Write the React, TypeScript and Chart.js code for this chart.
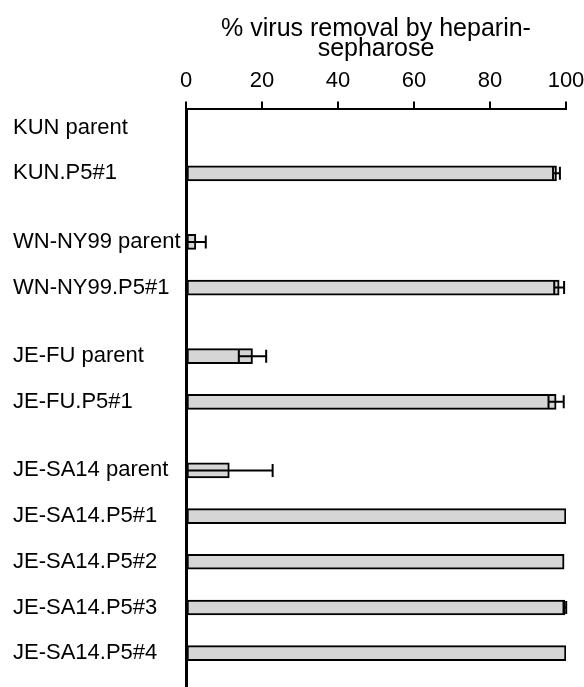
import { useEffect, useRef } from 'react';
import { Chart, registerables } from 'chart.js';

Chart.register(...registerables);

const categories = [
  'KUN parent',
  'KUN.P5#1',
  'WN-NY99 parent',
  'WN-NY99.P5#1',
  'JE-FU parent',
  'JE-FU.P5#1',
  'JE-SA14 parent',
  'JE-SA14.P5#1',
  'JE-SA14.P5#2',
  'JE-SA14.P5#3',
  'JE-SA14.P5#4',
];
const groups = ['KUN', 'KUN', 'WN', 'WN', 'FU', 'FU', 'SA', 'SA', 'SA', 'SA', 'SA'];
const removal: (number | null)[] = [null, 97.5, 2.6, 98.2, 17.5, 97.4, 11.4, 100, 99.5, 99.7, 100];
const removalError = [0, 0.9, 2.6, 1.3, 3.6, 2.0, 11.4, 0, 0, 0.35, 0];
const xTickValues = [0, 20, 40, 60, 80, 100];
const axisTitle = ['% virus removal by heparin-', 'sepharose'];

const FONT = "'Liberation Sans', Arial, Helvetica, sans-serif";

export default function App() {
  const ref = useRef<HTMLCanvasElement>(null);

  useEffect(() => {
    document.body.style.margin = '0';
    const labels: string[] = [];
    const values: (number | null)[] = [];
    const errs: number[] = [];
    categories.forEach((c, i) => {
      if (i > 0) {
        labels.push('');
        values.push(null);
        errs.push(0);
        if (groups[i] !== groups[i - 1]) {
          labels.push('');
          values.push(null);
          errs.push(0);
        }
      }
      labels.push(c);
      values.push(removal[i]);
      errs.push(removalError[i]);
    });

    const errorBars = {
      id: 'errorBars',
      afterDatasetsDraw(chart: any) {
        const meta = chart.getDatasetMeta(0);
        const xs = chart.scales.x;
        const ctx = chart.ctx;
        ctx.save();
        ctx.strokeStyle = '#000';
        ctx.lineWidth = 2;
        meta.data.forEach((bar: any, j: number) => {
          const v = values[j];
          const e = errs[j];
          if (v == null || !e) return;
          const y = bar.y;
          const x1 = xs.getPixelForValue(Math.max(0, v - e));
          const x2 = xs.getPixelForValue(v + e);
          ctx.beginPath();
          ctx.moveTo(x1, y);
          ctx.lineTo(x2, y);
          ctx.moveTo(x1, y - 6.5);
          ctx.lineTo(x1, y + 6.5);
          ctx.moveTo(x2, y - 6.5);
          ctx.lineTo(x2, y + 6.5);
          ctx.stroke();
        });
        ctx.restore();
      },
    };

    const chart = new Chart(ref.current!, {
      type: 'bar',
      data: {
        labels,
        datasets: [
          {
            data: values,
            backgroundColor: '#d6d6d6',
            borderColor: '#000',
            borderWidth: 2,
            borderSkipped: false,
            barThickness: 15,
          },
        ],
      },
      plugins: [errorBars],
      options: {
        indexAxis: 'y',
        responsive: false,
        animation: false,
        events: [],
        layout: { padding: { top: 15, left: 13, right: 18, bottom: 0 } },
        plugins: { legend: { display: false }, tooltip: { enabled: false } },
        scales: {
          x: {
            type: 'linear',
            position: 'top',
            min: 0,
            max: 100,
            afterBuildTicks: (s: any) => {
              s.ticks = xTickValues.map((v) => ({ value: v }));
            },
            afterFit: (s: any) => {
              s.paddingRight = 0;
              s.paddingLeft = 0;
            },
            ticks: {
              color: '#000',
              padding: 7,
              font: { family: FONT, size: 22 },
            },
            grid: {
              drawOnChartArea: false,
              drawTicks: true,
              tickLength: 8,
              color: '#000',
              lineWidth: 2,
            },
            border: { display: true, color: '#000', width: 2 },
            title: {
              display: true,
              text: axisTitle,
              color: '#000',
              font: { family: FONT, size: 25, lineHeight: 0.8 },
              padding: { top: 4, bottom: 2 },
            },
          },
          y: {
            type: 'category',
            afterBuildTicks: (s: any) => {
              s._startValue = -0.8;
              s._valueRange = 25.28;
            },
            afterFit: (s: any) => {
              s.width = 173;
              s.paddingTop = 0;
              s.paddingBottom = 0;
            },
            ticks: {
              autoSkip: false,
              crossAlign: 'far',
              padding: 0,
              color: '#000',
              font: { family: FONT, size: 22 },
            },
            grid: { display: false, drawTicks: false },
            border: { display: true, color: '#000', width: 3 },
          },
        },
      },
    } as any);
    return () => chart.destroy();
  }, []);

  return <canvas ref={ref} width={584} height={687} style={{ display: 'block' }} />;
}
